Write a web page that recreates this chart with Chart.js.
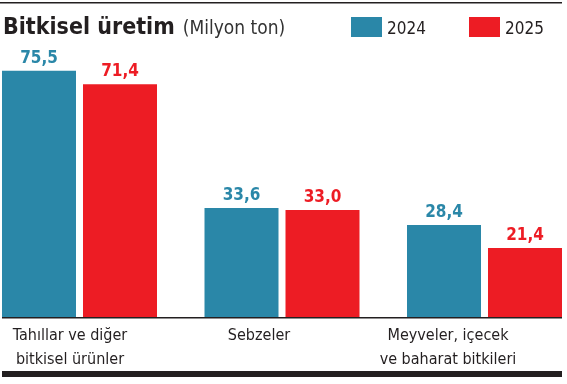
<!DOCTYPE html>
<html>
<head>
<meta charset="utf-8">
<script src="https://cdn.jsdelivr.net/npm/chart.js@4/dist/chart.umd.min.js"></script>
<style>
  html, body { margin: 0; padding: 0; background: #fff; }
  #wrap { width: 567px; height: 384px; }
</style>
</head>
<body>
<div id="wrap"><canvas id="c" width="567" height="384"></canvas></div>
<script>
// data
const categories = [
    ['Tahıllar ve diğer', 'bitkisel ürünler'],
    ['Sebzeler'],
    ['Meyveler, içecek', 've baharat bitkileri']
];
const years = ['2024', '2025'];
const values2024 = [75.5, 33.6, 28.4];
const values2025 = [71.4, 33.0, 21.4];

const TEAL = '#2a87a8';
const RED = '#ed1c24';
const INK = '#231f20';
const FONT = "'DejaVu Sans Condensed', Roboto, sans-serif";

const fmt = v => v.toFixed(1).replace('.', ',');

// title, legend, rules, value labels, category labels
const decor = {
    id: 'decor',
    afterDatasetsDraw(chart) {
        const ctx = chart.ctx;
        const y0 = chart.scales.y.getPixelForValue(0);
        ctx.save();

        // top rule
        ctx.fillStyle = INK;
        ctx.fillRect(0, 2, 562, 1.5);

        // title
        ctx.textBaseline = 'alphabetic';
        ctx.textAlign = 'left';
        ctx.font = 'bold 23px ' + FONT;
        ctx.fillText('Bitkisel üretim', 3, 34);
        const tw = ctx.measureText('Bitkisel üretim').width;
        ctx.font = '19px ' + FONT;
        ctx.fillStyle = '#333';
        ctx.fillText('(Milyon ton)', 3 + tw + 8, 34);

        // legend
        const legendX = [351, 469];
        [TEAL, RED].forEach((col, i) => {
            ctx.fillStyle = col;
            ctx.fillRect(legendX[i], 17, 31, 20);
            ctx.fillStyle = INK;
            ctx.font = '17px ' + FONT;
            ctx.fillText(years[i], legendX[i] + 36, 34);
        });

        // baseline and bottom bar
        ctx.fillStyle = INK;
        ctx.fillRect(2, y0 - 1, 560, 1.5);
        ctx.fillRect(2, 371, 560, 6);

        // value labels
        ctx.textAlign = 'center';
        ctx.font = 'bold 17px ' + FONT;
        chart.data.datasets.forEach((ds, di) => {
            chart.getDatasetMeta(di).data.forEach((bar, i) => {
                ctx.fillStyle = ds.backgroundColor;
                ctx.fillText(fmt(ds.data[i]), bar.x, bar.y - 8);
            });
        });

        // category labels
        ctx.fillStyle = INK;
        ctx.font = '16px ' + FONT;
        categories.forEach((lines, i) => {
            const cx = 70 + i * 189;
            lines.forEach((t, j) => ctx.fillText(t, cx, 340 + j * 24));
        });
        ctx.restore();
    }
};

new Chart(document.getElementById('c'), {
    type: 'bar',
    data: {
        labels: categories.map(c => c.join(' ')),
        datasets: [
            { label: years[0], data: values2024, backgroundColor: TEAL, clip: false },
            { label: years[1], data: values2025, backgroundColor: RED, clip: false }
        ]
    },
    options: {
        responsive: false,
        animation: false,
        categoryPercentage: 0.8,
        barPercentage: 0.9136,
        layout: { padding: { left: 79.5, right: 82.5, top: 56, bottom: 66 } },
        scales: {
            x: { display: false, offset: false },
            y: { display: false, min: 0, max: 80 }
        },
        plugins: {
            legend: { display: false },
            tooltip: { enabled: false }
        }
    },
    plugins: [decor]
});
</script>
</body>
</html>
